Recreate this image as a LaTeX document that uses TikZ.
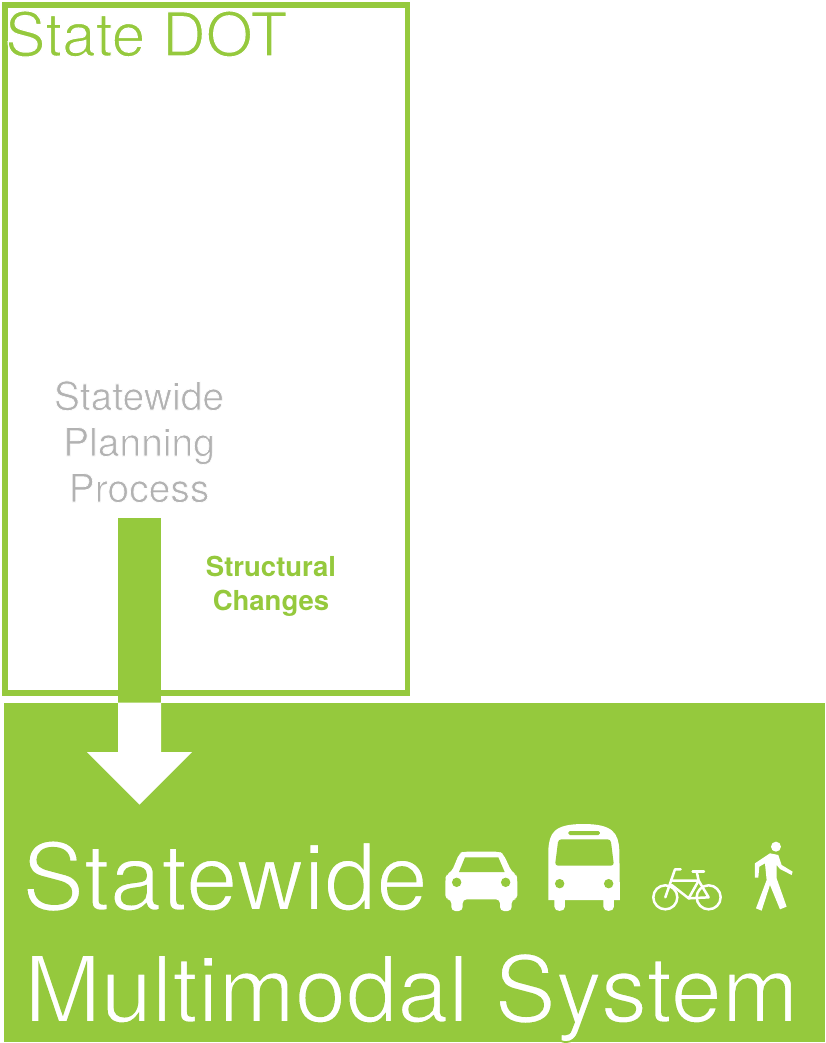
\documentclass[tikz,border=0pt]{standalone}
\usepackage{fontspec}
\setmainfont{TeX Gyre Heros}
\definecolor{dotgreen}{RGB}{149,201,61}
\definecolor{procgray}{RGB}{178,178,178}
% thin the letters by stroking them in the colour of what lies behind
\newcommand{\thinon}[2]{\special{pdf:code 2 Tr #1 w #2 RG}}
\newcommand{\thinoff}{\special{pdf:code 0 Tr 0.4 w}}
\tikzset{
  lighttext/.style={inner sep=0pt,font=\fontsize{#1}{#1}\selectfont,anchor=base},
  iconfill/.style={fill=white,draw=none},
  iconhole/.style={fill=dotgreen,draw=none},
  bikeline/.style={draw=white,line width=2.5pt,line cap=round,line join=round}
}
\begin{document}
\begin{tikzpicture}[x=1pt,y=-1pt]
\useasboundingbox (0,0) rectangle (825,1043);
\fill[white] (0,0) rectangle (825,1043);
\node[draw=dotgreen,line width=5.5pt,minimum width=402.5pt,minimum height=687.5pt,inner sep=0pt,anchor=north west] (dot) at (2,2.5) {};
\fill[dotgreen] (3.5,702.5) rectangle (825,1042);
\fill[dotgreen] (118,518) rectangle (161,702.5);
\fill[white] (118,702.5) -- (161,702.5) -- (161,752) -- (192,752) -- (139.5,804.5) -- (87,752) -- (118,752) -- cycle;
\node[lighttext=60.5,text=dotgreen,anchor=base west] (title) at (5,56) {\thinon{1.2}{1 1 1}State DOT\thinoff};
\node[lighttext=39,text=procgray] (p1) at (139,410) {\thinon{0.7}{1 1 1}Statewide\thinoff};
\node[lighttext=39,text=procgray] (p2) at (139,456) {\thinon{0.7}{1 1 1}Planning\thinoff};
\node[lighttext=39,text=procgray] (p3) at (139,502) {\thinon{0.7}{1 1 1}Process\thinoff};
\node[inner sep=0pt,anchor=base,text=dotgreen,font=\bfseries\fontsize{27.5}{27.5}\selectfont] (s1) at (271,576) {Structural};
\node[inner sep=0pt,anchor=base,text=dotgreen,font=\bfseries\fontsize{27.5}{27.5}\selectfont] (s2) at (271,610) {Changes};
\node[lighttext=93,text=white,anchor=base west] (m1) at (22,910) {\thinon{1.8}{0.584 0.788 0.239}Statewide\thinoff};
\node[lighttext=92,text=white,anchor=base west] (m2) at (24,1022) {\thinon{1.8}{0.584 0.788 0.239}Multimodal System\thinoff};
\begin{scope}[shift={(430,810)},x=0.3333pt,y=-0.3333pt]
% car
\path[iconfill,rounded corners=4pt] (46,268) -- (46,205) -- (50,193) -- (65,185) -- (88,130) -- (100,125) -- (208,125) -- (220,132) -- (245,185) -- (258,193) -- (262,205) -- (262,268) -- (245,268) -- (245,303) -- (210,303) -- (210,268) -- (98,268) -- (98,303) -- (64,303) -- (64,268) -- cycle;
\path[iconhole] (87,186) -- (105,142) -- (205,142) -- (224,186) -- cycle;
\path[iconhole] (80,217) circle[radius=4.7pt] (227,217) circle[radius=4.7pt];
% bus
\path[iconfill] (355,270) -- (355,120) .. controls (358,70) and (370,42) .. (460,42) .. controls (550,42) and (565,70) .. (568,120) -- (570,270) -- (552,270) -- (552,290) .. controls (552,307) and (520,307) .. (520,290) -- (520,270) -- (405,270) -- (405,290) .. controls (405,307) and (373,307) .. (373,290) -- (373,270) -- cycle;
\path[iconhole,rounded corners=3pt] (375,167) -- (385,88) -- (542,88) -- (552,167) -- cycle;
\path[iconhole,rounded corners=1.5pt] (415,63) rectangle (510,75);
\path[iconhole] (389,221) circle[radius=4.7pt] (536,221) circle[radius=4.7pt];
% bicycle
\draw[bikeline] (706,262) circle[radius=12pt] (836,262) circle[radius=12pt];
\draw[bikeline] (752,178) -- (735,178) -- (706,262);
\draw[bikeline] (728,212) -- (806,212) -- (776,265) -- (725,225);
\draw[bikeline] (776,265) -- (836,262) -- (806,212) -- (800,184);
\draw[bikeline] (788,184) -- (822,184);
% pedestrian
\path[iconfill] (1038,110) circle[radius=5pt];
\path[iconfill,line join=round] (1020,130) -- (975,160) -- (975,203) -- (985,203) -- (988,170) -- (1005,160) -- (1010,210) -- (978,295) -- (995,302) -- (1020,225) -- (1050,298) -- (1070,290) -- (1040,205) -- (1040,165) -- (1050,177) -- (1085,195) -- (1088,185) -- (1055,165) -- (1045,135) -- cycle;
\end{scope}
\end{tikzpicture}
\end{document}
